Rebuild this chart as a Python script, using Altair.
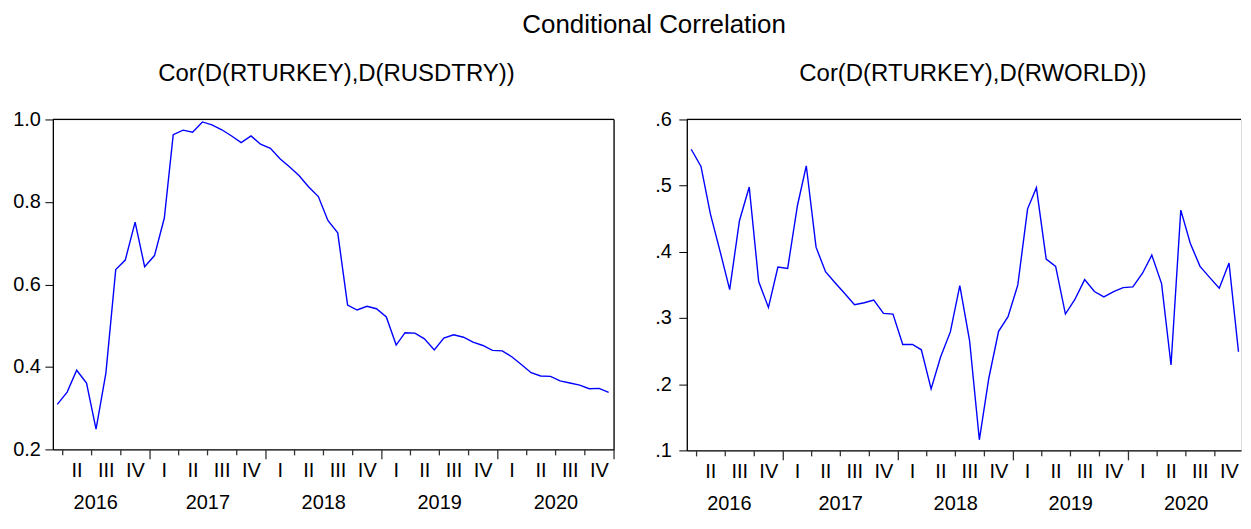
import altair as alt
import pandas as pd

# ---------------- data (monthly, 2016M03 - 2020M12) ----------------
corr_usdtry = [
    0.309, 0.339, 0.392, 0.361, 0.249, 0.385, 0.636, 0.659, 0.751, 0.643,
    0.670, 0.761, 0.963, 0.974, 0.969, 0.994, 0.987, 0.975, 0.960, 0.944, 0.960, 0.940,
    0.930, 0.904, 0.886, 0.864, 0.837, 0.813, 0.755, 0.725, 0.550, 0.538, 0.547, 0.541,
    0.521, 0.453, 0.483, 0.482, 0.468, 0.441, 0.470, 0.478, 0.472, 0.460, 0.452, 0.440,
    0.439, 0.424, 0.406, 0.386, 0.378, 0.377, 0.366, 0.361, 0.356, 0.347, 0.348, 0.338,
]
corr_world = [
    0.555, 0.529, 0.457, 0.400, 0.343, 0.447, 0.498, 0.355, 0.316, 0.377,
    0.375, 0.470, 0.530, 0.407, 0.370, 0.353, 0.337, 0.320, 0.323, 0.327, 0.307, 0.306,
    0.260, 0.260, 0.252, 0.193, 0.241, 0.279, 0.349, 0.266, 0.116, 0.209, 0.280, 0.302,
    0.350, 0.465, 0.497, 0.389, 0.378, 0.306, 0.328, 0.358, 0.340, 0.332, 0.340, 0.346,
    0.347, 0.368, 0.395, 0.352, 0.229, 0.463, 0.413, 0.378, 0.361, 0.345, 0.383, 0.249,
]
first_month = "2016-03-01"
last_month = "2020-12-01"
quarter_names = ["I", "II", "III", "IV"]
years = [2016, 2017, 2018, 2019, 2020]
left_yticks = [0.2, 0.4, 0.6, 0.8, 1.0]
right_yticks = [0.1, 0.2, 0.3, 0.4, 0.5, 0.6]
main_title = "Conditional Correlation"
left_title = "Cor(D(RTURKEY),D(RUSDTRY))"
right_title = "Cor(D(RTURKEY),D(RWORLD))"

# ---------------- derived tables ----------------
month_starts = pd.date_range(first_month, last_month, freq="MS")
obs_dates = [(d + pd.Timedelta(days=14)).strftime("%Y-%m-%d") for d in month_starts]
df_left = pd.DataFrame({"date": obs_dates, "value": corr_usdtry})
df_right = pd.DataFrame({"date": obs_dates, "value": corr_world})

q_starts = pd.date_range("2016-04-01", "2021-01-01", freq="QS")
q_lab = []
for s in q_starts[:-1]:
    e = s + pd.offsets.QuarterBegin(startingMonth=1)
    mid = s + (e - s) / 2
    q_lab.append({"date": mid.strftime("%Y-%m-%d"), "label": quarter_names[(s.month - 1) // 3]})
qlab_df = pd.DataFrame(q_lab)
y_lab = []
for y in years:
    s = pd.Timestamp(f"{y}-01-01")
    e = pd.Timestamp(f"{y + 1}-01-01")
    mid = s + (e - s) / 2
    if s < pd.Timestamp(first_month):
        mid = mid + pd.Timedelta(days=12)
    y_lab.append({"date": mid.strftime("%Y-%m-%d"), "label": str(y)})
ylab_df = pd.DataFrame(y_lab)

FONT = "Liberation Sans"
BLUE = "#0000FF"
START = pd.Timestamp(first_month)


def panel(df, title, ydomain, yticks, width, height, xend, label_expr, label_pad, right_border, title_dx):
    end = pd.Timestamp(xend)
    ticks = [d for d in q_starts if d <= end]
    tick_df = pd.DataFrame({"date": [d.strftime("%Y-%m-%d") for d in ticks],
                            "major": [d.month == 1 for d in ticks]})
    xscale = alt.Scale(type="utc", domain=[
        alt.DateTime(year=START.year, month=START.month, date=START.day, utc=True),
        alt.DateTime(year=end.year, month=end.month, date=end.day, utc=True)])
    xaxis = alt.Axis(title=None, labels=False, ticks=False, grid=False,
                     domainColor="black", domainWidth=1.3)
    yaxis = alt.Axis(title=None, values=yticks, grid=False, tickSize=8, tickColor="black",
                     tickWidth=1, domainColor="black", domainWidth=1.3, labelFont=FONT,
                     labelFontSize=20, labelColor="black", labelPadding=label_pad,
                     labelExpr=label_expr, labelFlush=False)
    line = alt.Chart(df).mark_line(color=BLUE, strokeWidth=1.4).encode(
        x=alt.X("date:T", scale=xscale, axis=xaxis),
        y=alt.Y("value:Q", scale=alt.Scale(domain=ydomain, nice=False, zero=False), axis=yaxis),
    )
    xs = alt.X("date:T", scale=xscale)
    minor = alt.Chart(tick_df).transform_filter("!datum.major").mark_rule(color="#333333", strokeWidth=1.3).encode(
        x=xs, y=alt.value(height), y2=alt.value(height + 6))
    major = alt.Chart(tick_df).transform_filter("datum.major").mark_rule(color="#333333", strokeWidth=1.3).encode(
        x=xs, y=alt.value(height), y2=alt.value(height + 10))
    qtext = alt.Chart(qlab_df).mark_text(
        font=FONT, fontSize=20, color="black", baseline="alphabetic").encode(
        x=xs, y=alt.value(height + 28), text="label:N")
    ytext = alt.Chart(ylab_df).mark_text(
        font=FONT, fontSize=20, color="black", baseline="alphabetic").encode(
        x=xs, y=alt.value(height + 60), text="label:N")
    one = pd.DataFrame({"k": [0]})
    top = alt.Chart(one).mark_rule(color="black", strokeWidth=1.3).encode(
        x=alt.value(0), x2=alt.value(width), y=alt.value(0))
    layers = [line, minor, major, qtext, ytext, top]
    if right_border:
        layers.append(alt.Chart(one).mark_rule(color="black", strokeWidth=1.3).encode(
            x=alt.value(width), y=alt.value(0), y2=alt.value(height)))
    return alt.layer(*layers).properties(
        width=width, height=height,
        title=alt.TitleParams(title, font=FONT, fontSize=24, fontWeight="normal", color="black",
                              anchor="middle", frame="group", offset=23.4, dx=title_dx),
    )


left = panel(df_left, left_title, [0.2, 1.0], left_yticks, 563, 331, "2021-01-01",
             "format(datum.value, '.1f')", 4.5, True, 3)
right = panel(df_right, right_title, [0.1, 0.6], right_yticks, 556, 332, "2020-12-23",
              "slice(format(datum.value, '.1f'), 1)", 7.5, False, 9)

chart = alt.hconcat(left, right, spacing=73, bounds="flush").properties(
    title=alt.TitleParams(main_title, font=FONT, fontSize=26, fontWeight="normal", color="black",
                          anchor="middle", offset=24, dx=27),
    padding={"left": 4, "top": 3, "right": 0, "bottom": 0},
).configure_view(stroke=None).configure(font=FONT)

chart.save("out.html", embed_options={"renderer": "svg", "actions": False})
